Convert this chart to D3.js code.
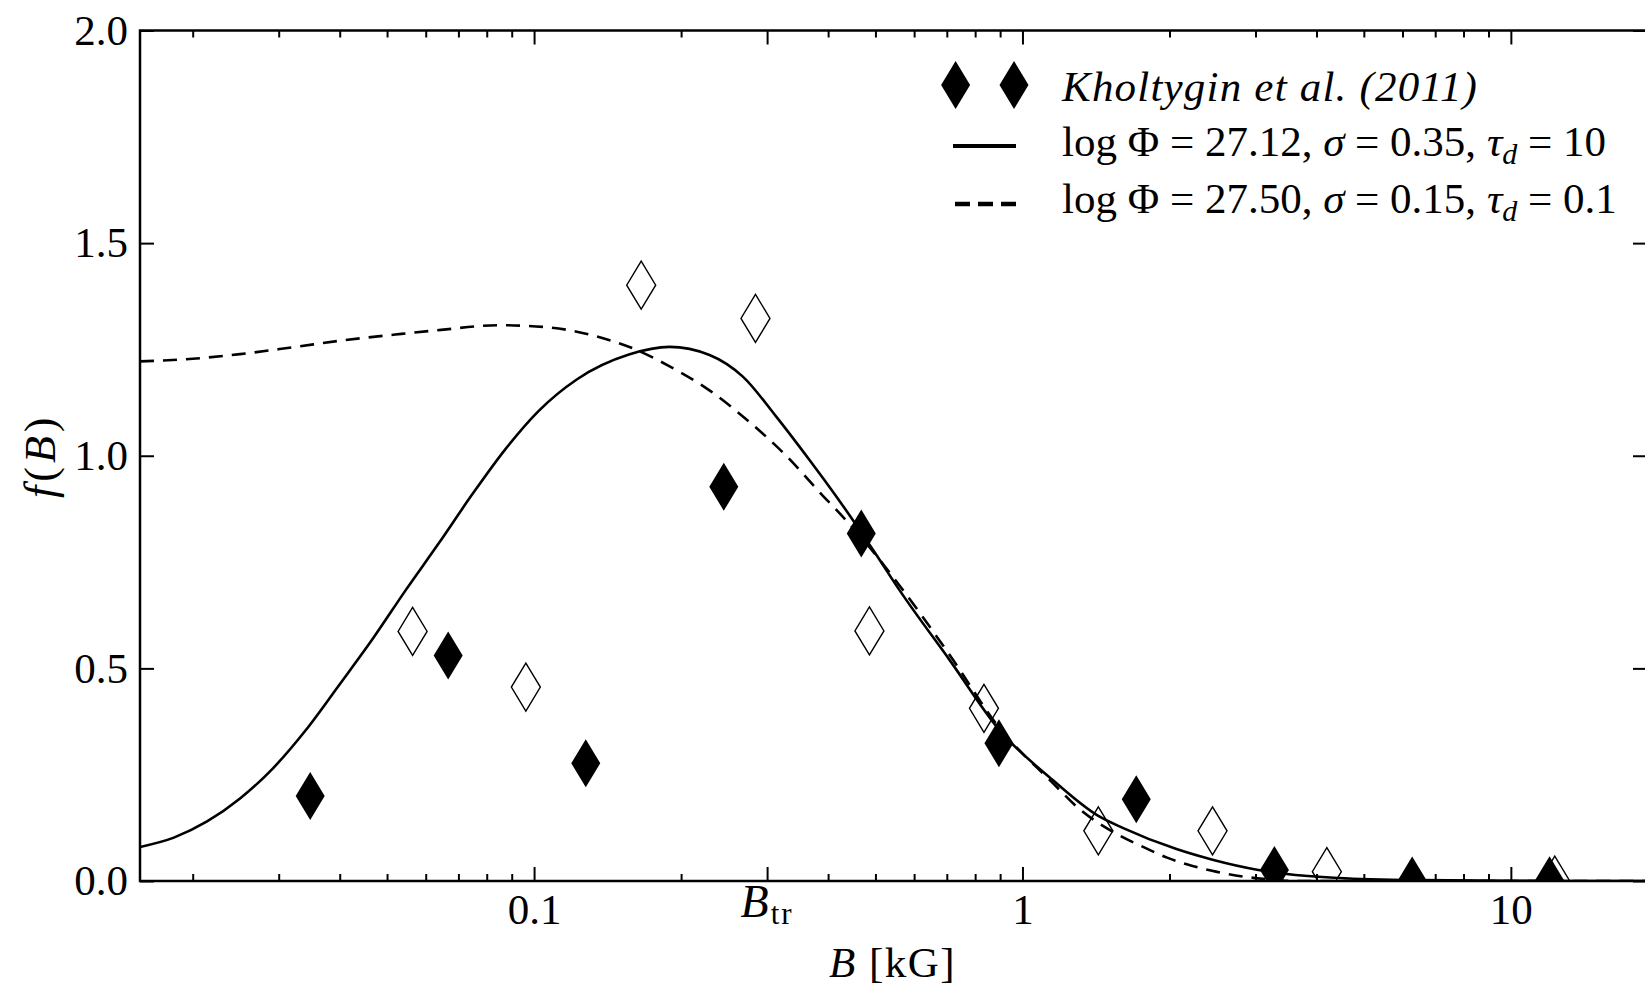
<!DOCTYPE html>
<html>
<head>
<meta charset="utf-8">
<script src="https://cdn.jsdelivr.net/npm/d3@7"></script>
<style>
  body { margin: 0; background: #fff; }
  text { font-family: "Liberation Serif", "Times New Roman", serif; fill: #000; }
</style>
</head>
<body>
<svg id="chart" width="1645" height="988"></svg>
<script>
// observed points, B in kG
const filledB = [0.0348, 0.0667, 0.1276, 0.2446, 0.4677, 0.895, 1.71, 3.28, 6.28, 12.0];
const filledF = [0.200, 0.530, 0.277, 0.927, 0.817, 0.324, 0.192, 0.026, 0.001, 0.002];
const openB = [0.0564, 0.0962, 0.1657, 0.284, 0.486, 0.834, 1.43, 2.45, 4.2, 12.3];
const openF = [0.587, 0.456, 1.401, 1.323, 0.588, 0.406, 0.118, 0.118, 0.022, 0.002];

// model curves
const solidB = [0.0156, 0.0183, 0.0214, 0.0250, 0.0292, 0.0341, 0.0399, 0.0467, 0.0546, 0.0638,
  0.0746, 0.0873, 0.1021, 0.1225, 0.1564, 0.1894, 0.2287, 0.2676, 0.3132, 0.3664,
  0.393, 0.4494, 0.50, 0.56, 0.709, 0.897, 1.152, 1.43, 1.604, 2.067, 2.45, 3.04, 3.44, 4.43,
  6.49, 10.0, 19.0];
const solidF = [0.080, 0.102, 0.140, 0.194, 0.265, 0.355, 0.461, 0.569, 0.684, 0.794,
  0.908, 1.015, 1.105, 1.180, 1.238, 1.256, 1.237, 1.186, 1.092, 0.990,
  0.943, 0.849, 0.770, 0.684, 0.520, 0.355, 0.238, 0.153, 0.125, 0.075, 0.050, 0.026, 0.017, 0.007,
  0.002, 0.0005, 0.0];
const dashedB = [0.0156, 0.020, 0.025, 0.032, 0.041, 0.052, 0.0645, 0.0845, 0.1068, 0.1328, 0.159,
  0.1903, 0.2278, 0.273, 0.327, 0.3916, 0.422, 0.47, 0.56, 0.709, 0.897, 1.15, 1.30, 1.58, 1.775,
  1.977, 2.22, 2.49, 2.85, 3.2, 3.6, 19.0];
const dashedF = [1.222, 1.228, 1.239, 1.255, 1.272, 1.285, 1.296, 1.307, 1.302, 1.282, 1.253,
  1.209, 1.155, 1.084, 1.002, 0.904, 0.865, 0.805, 0.695, 0.532, 0.360, 0.232, 0.172, 0.107, 0.079,
  0.055, 0.036, 0.022, 0.010, 0.004, 0.0, 0.0];

const xMajor = [0.1, 0.3, 1, 10];
const xMajorLabels = ["0.1", "", "1", "10"];
const xMinor = [0.02, 0.03, 0.04, 0.05, 0.06, 0.07, 0.08, 0.09, 0.2, 0.4, 0.5, 0.6, 0.7, 0.8, 0.9,
  2, 3, 4, 5, 6, 7, 8, 9];
const yTicks = [0, 0.5, 1.0, 1.5, 2.0];
const bTr = 0.3;

const svg = d3.select("#chart");
const mLeft = 140, mRight = 1647, mTop = 30.5, mBottom = 881;

const x = d3.scaleLog().domain([0.0156, 19]).range([mLeft, mRight]);
const y = d3.scaleLinear().domain([0, 2]).range([mBottom, mTop]);

svg.append("rect").attr("width", 1645).attr("height", 988).attr("fill", "#fff");

svg.append("clipPath").attr("id", "plot")
  .append("rect").attr("x", mLeft).attr("y", mTop)
  .attr("width", mRight - mLeft).attr("height", mBottom - mTop);

// curves
const line = d3.line().x(d => x(d[0])).y(d => y(d[1])).curve(d3.curveMonotoneX);
const plot = svg.append("g").attr("clip-path", "url(#plot)");

plot.append("path")
  .attr("d", line(d3.zip(solidB, solidF)))
  .attr("fill", "none").attr("stroke", "#000").attr("stroke-width", 2.6);

plot.append("path")
  .attr("d", line(d3.zip(dashedB, dashedF)))
  .attr("fill", "none").attr("stroke", "#000").attr("stroke-width", 2.6)
  .attr("stroke-dasharray", "14,9");

const diamond = "M0,-24L14.5,0L0,24L-14.5,0Z";

plot.selectAll(".open").data(d3.zip(openB, openF)).enter()
  .append("path")
  .attr("d", diamond)
  .attr("transform", d => `translate(${x(d[0])},${y(d[1])})`)
  .attr("fill", "none").attr("stroke", "#000").attr("stroke-width", 1.4);

plot.selectAll(".filled").data(d3.zip(filledB, filledF)).enter()
  .append("path")
  .attr("d", diamond)
  .attr("transform", d => `translate(${x(d[0])},${y(d[1])})`)
  .attr("fill", "#000");

// axes
const styleAxis = g => {
  g.select(".domain").remove();
  g.selectAll(".tick line").attr("stroke", "#000").attr("stroke-width", 2);
  g.selectAll(".tick text").attr("font-size", 43)
    .attr("font-family", "Liberation Serif, serif").attr("fill", "#000");
};

svg.append("g").attr("transform", `translate(0,${mBottom})`)
  .call(d3.axisBottom(x).tickValues(xMajor).tickSizeInner(-14).tickSizeOuter(0)
    .tickPadding(12).tickFormat((d, i) => xMajorLabels[i]))
  .call(styleAxis);
svg.append("g").attr("transform", `translate(0,${mBottom})`)
  .call(d3.axisBottom(x).tickValues(xMinor).tickSizeInner(-7).tickSizeOuter(0).tickFormat(""))
  .call(styleAxis);
svg.append("g").attr("transform", `translate(0,${mTop})`)
  .call(d3.axisTop(x).tickValues(xMajor).tickSizeInner(-14).tickSizeOuter(0).tickFormat(""))
  .call(styleAxis);
svg.append("g").attr("transform", `translate(0,${mTop})`)
  .call(d3.axisTop(x).tickValues(xMinor).tickSizeInner(-7).tickSizeOuter(0).tickFormat(""))
  .call(styleAxis);
svg.append("g").attr("transform", `translate(${mLeft},0)`)
  .call(d3.axisLeft(y).tickValues(yTicks).tickSizeInner(-14).tickSizeOuter(0)
    .tickPadding(12).tickFormat(d3.format(".1f")))
  .call(styleAxis);
svg.append("g").attr("transform", `translate(${mRight},0)`)
  .call(d3.axisRight(y).tickValues(yTicks).tickSizeInner(-14).tickSizeOuter(0).tickFormat(""))
  .call(styleAxis);

svg.append("rect")
  .attr("x", mLeft).attr("y", mTop).attr("width", mRight - mLeft).attr("height", mBottom - mTop)
  .attr("fill", "none").attr("stroke", "#000").attr("stroke-width", 2.5);

// B_tr tick label
const btr = svg.append("text").attr("x", x(bTr)).attr("y", 917)
  .attr("text-anchor", "middle").attr("font-size", 46).attr("letter-spacing", 2);
btr.append("tspan").attr("font-style", "italic").text("B");
btr.append("tspan").attr("font-size", 31).attr("dy", 7).text("tr");

// axis titles
const xt = svg.append("text").attr("x", (mLeft + 1645) / 2).attr("y", 977)
  .attr("text-anchor", "middle").attr("font-size", 43).attr("letter-spacing", 1.5);
xt.append("tspan").attr("font-style", "italic").text("B");
xt.append("tspan").text(" [kG]");

const yt = svg.append("text")
  .attr("transform", `translate(55,${(mTop + mBottom) / 2}) rotate(-90)`)
  .attr("text-anchor", "middle").attr("font-size", 44).attr("letter-spacing", 4);
yt.append("tspan").attr("font-style", "italic").text("f");
yt.append("tspan").text("(");
yt.append("tspan").attr("font-style", "italic").text("B");
yt.append("tspan").text(")");

// legend
const lg = svg.append("g");
[955.6, 1014].forEach(cx => {
  lg.append("path").attr("d", diamond).attr("transform", `translate(${cx},85)`).attr("fill", "#000");
});
lg.append("line").attr("x1", 953).attr("x2", 1016).attr("y1", 146).attr("y2", 146)
  .attr("stroke", "#000").attr("stroke-width", 4);
lg.append("line").attr("x1", 955).attr("x2", 1016).attr("y1", 204).attr("y2", 204)
  .attr("stroke", "#000").attr("stroke-width", 4.5).attr("stroke-dasharray", "15,8");

lg.append("text").attr("x", 1062).attr("y", 101).attr("font-size", 43)
  .attr("letter-spacing", 1.2)
  .attr("font-style", "italic").text("Kholtygin et al. (2011)");

const legendRows = [
  { y: 156, a: "log Φ = 27.12, ", s: " = 0.35, ", t: " = 10" },
  { y: 213, a: "log Φ = 27.50, ", s: " = 0.15, ", t: " = 0.1" }
];
legendRows.forEach(r => {
  const t = lg.append("text").attr("x", 1062).attr("y", r.y).attr("font-size", 43)
    .attr("xml:space", "preserve");
  t.append("tspan").text(r.a);
  t.append("tspan").attr("font-style", "italic").text("σ");
  t.append("tspan").text(r.s);
  t.append("tspan").attr("font-style", "italic").text("τ");
  t.append("tspan").attr("font-style", "italic").attr("font-size", 30).attr("dy", 8).text("d");
  t.append("tspan").attr("dy", -8).text(r.t);
});
</script>
</body>
</html>
